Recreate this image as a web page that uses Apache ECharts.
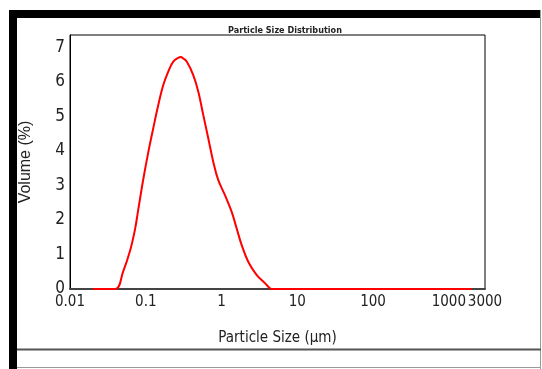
<!DOCTYPE html>
<html><head><meta charset="utf-8">
<script src="https://cdn.jsdelivr.net/npm/echarts@6/dist/echarts.min.js"></script>
<style>html,body{margin:0;padding:0;background:#fff}#c{width:542px;height:369px}</style>
</head><body><div id="c"></div>
<script>
// Particle size (µm) and volume (%)
var sizes = [0.02, 0.0393, 0.0505, 0.0619, 0.072, 0.0796, 0.0927, 0.1079, 0.1256, 0.1462, 0.1702, 0.198, 0.2306, 0.2685, 0.29, 0.3125, 0.3467, 0.4236, 0.493, 0.574, 0.668, 0.777, 0.904, 1.109, 1.358, 1.581, 1.841, 2.25, 2.9, 3.74, 4.35, 4.6, 2000];
var volume = [0, 0, 0.52, 1.10, 1.72, 2.30, 3.18, 3.96, 4.66, 5.33, 5.91, 6.30, 6.59, 6.70, 6.72, 6.68, 6.59, 6.20, 5.72, 5.04, 4.37, 3.69, 3.16, 2.72, 2.24, 1.76, 1.28, 0.79, 0.41, 0.17, 0.02, 0, 0];
var xTickLabels = {0.01: '0.01', 0.1: '0.1', 1: '1', 10: '10', 100: '100', 1000: '1000', 3000: '3000'};
var yTicks = [0, 1, 2, 3, 4, 5, 6, 7];

var FONT = '"DejaVu Sans Condensed", "Liberation Sans Narrow", "Arial Narrow", sans-serif';
var chart = echarts.init(document.getElementById('c'), null, {renderer: 'canvas'});
var data = sizes.map(function (s, i) { return [s, volume[i]]; });
chart.setOption({
  animation: false,
  backgroundColor: '#fff',
  title: {
    text: 'Particle Size Distribution',
    left: 280, top: 21, textAlign: 'center',
    textStyle: {fontFamily: FONT, fontSize: 9, fontWeight: 'bold', color: '#222'}
  },
  grid: {left: 70, right: 57, top: 35, bottom: 80, show: true, borderColor: '#000', borderWidth: 1, backgroundColor: 'transparent'},
  xAxis: {
    type: 'log', logBase: 10, min: 0.01, max: 3000,
    name: 'Particle Size (µm)', nameLocation: 'middle', nameGap: 42,
    nameTextStyle: {fontFamily: FONT, fontSize: 15, color: '#222'},
    axisLine: {show: true, lineStyle: {color: '#444', width: 2}},
    axisTick: {show: false},
    splitLine: {show: false},
    minorTick: {show: false},
    axisLabel: {
      fontFamily: FONT, fontSize: 15, color: '#222', margin: 6,
      showMinLabel: true, showMaxLabel: true,
      formatter: function (v) {
        var keys = Object.keys(xTickLabels);
        for (var i = 0; i < keys.length; i++) {
          var k = parseFloat(keys[i]);
          if (Math.abs(Math.log10(v) - Math.log10(k)) < 1e-6) return xTickLabels[keys[i]];
        }
        return '';
      }
    }
  },
  yAxis: {
    type: 'value', min: 0, max: 7.36, interval: 1,
    name: 'Volume (%)', nameLocation: 'middle', nameGap: 36, nameRotate: 90,
    nameTextStyle: {fontFamily: 'Liberation Sans, Arial, sans-serif', fontSize: 16, color: '#222'},
    axisLine: {show: true, lineStyle: {color: '#000', width: 1}},
    axisTick: {show: false},
    splitLine: {show: false},
    axisLabel: {
      fontFamily: FONT, fontSize: 17, color: '#222', margin: 5,
      showMaxLabel: false,
      formatter: function (v) { return yTicks.indexOf(v) >= 0 ? String(v) : ''; }
    }
  },
  series: [{
    type: 'line', data: data, showSymbol: false, smooth: 0.4,
    lineStyle: {color: '#ff0000', width: 2},
    itemStyle: {color: '#ff0000'}, z: 5
  }],
  graphic: [
    {type: 'rect', shape: {x: 9, y: 10, width: 532, height: 8}, style: {fill: '#000'}},
    {type: 'rect', shape: {x: 9, y: 10, width: 8, height: 359}, style: {fill: '#000'}},
    {type: 'line', shape: {x1: 540.5, y1: 10, x2: 540.5, y2: 369}, style: {stroke: '#999', lineWidth: 1}},
    {type: 'line', shape: {x1: 17, y1: 349.5, x2: 541, y2: 349.5}, style: {stroke: '#555', lineWidth: 2}},
    {type: 'line', shape: {x1: 17, y1: 367.5, x2: 541, y2: 367.5}, style: {stroke: '#999', lineWidth: 1}}
  ]
});
</script></body></html>
